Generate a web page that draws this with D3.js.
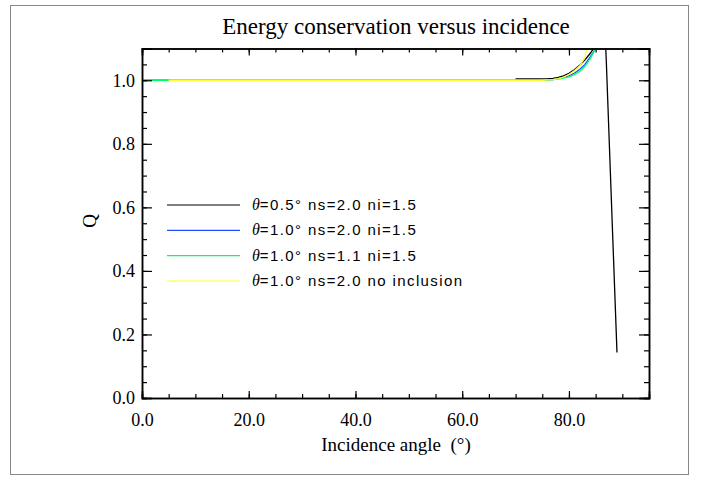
<!DOCTYPE html>
<html>
<head>
  <title>Energy conservation versus incidence</title>
  <script src="https://d3js.org/d3.v7.min.js"></script>
  <style>
    body { margin: 0; background: #fff; }
    svg text { font-family: "Liberation Serif", serif; }
    .curve { fill: none; stroke-width: 1.3px; }
    .tick text { font-family: "Liberation Serif", serif; font-size: 18px; fill: #000; }
    .legend text { font-family: "Liberation Sans", sans-serif; font-size: 15px; letter-spacing: 1.4px; }
    .legend .theta { font-family: "Liberation Serif", serif; font-style: italic; font-size: 16px; letter-spacing: 0; }
  </style>
</head>
<body>
  <svg width="701" height="481"></svg>

  <script>
    // Series: incidence angle (deg) and Q
    const angleBlack = [70, 72, 74, 76, 77, 78, 79, 80, 81, 82, 83, 84, 85, 85.5, 86, 86.5, 87, 89];
    const qBlack = [1.004, 1.004, 1.004, 1.005, 1.006, 1.009, 1.014, 1.022, 1.033, 1.047, 1.064, 1.085, 1.11, 1.14, 1.2, 1.25, 1.06, 0.143];

    const angleBlue = [0, 5, 10, 20, 30, 40, 50, 60, 70, 75, 76, 77, 78, 79, 80, 81, 82, 83, 84, 85, 85.3];
    const qBlue = [1.0, 1.0, 1.0, 1.0, 1.0, 1.0, 1.0, 1.0, 1.0, 1.0, 1.001, 1.002, 1.005, 1.009, 1.014, 1.022, 1.034, 1.05, 1.074, 1.1, 1.11];

    const angleGreen = [0, 5, 10, 20, 30, 40, 50, 60, 70, 75, 76, 77, 78, 79, 80, 81, 82, 83, 84, 85, 85.3];
    const qGreen = [1.0, 1.0, 1.0, 1.0, 1.0, 1.0, 1.0, 1.0, 1.0, 1.0, 1.001, 1.002, 1.004, 1.007, 1.011, 1.018, 1.028, 1.044, 1.068, 1.1, 1.11];

    const angleYellow = [5, 10, 20, 30, 40, 50, 60, 70, 75, 76, 77, 78, 79, 80, 81, 82, 83, 83.4];
    const qYellow = [1.0, 1.0, 1.0, 1.0, 1.0, 1.0, 1.0, 1.0, 1.0, 1.001, 1.002, 1.005, 1.01, 1.018, 1.03, 1.045, 1.072, 1.11];

    const legendLabels = [
      ["0.5", "2.0", "ni=1.5"],
      ["1.0", "2.0", "ni=1.5"],
      ["1.0", "1.1", "ni=1.5"],
      ["1.0", "2.0", "no inclusion"]
    ];
    const colors = ["#000000", "#1f4dff", "#00ff66", "#ffff33"];

    const xTicks = [0, 20, 40, 60, 80];
    const yTicks = [0, 0.2, 0.4, 0.6, 0.8, 1.0];

    const svg = d3.select("svg");
    const margin = { top: 48.5, right: 52, bottom: 83, left: 142 };
    const W = 701, H = 481;

    // outer frame
    svg.append("rect")
      .attr("x", 10.5).attr("y", 5.5)
      .attr("width", 678).attr("height", 469)
      .attr("fill", "none").attr("stroke", "#888").attr("stroke-width", 1);

    const x = d3.scaleLinear().domain([0, 95]).range([margin.left, W - margin.right]);
    const y = d3.scaleLinear().domain([0, 1.1]).range([H - margin.bottom, margin.top]);

    svg.append("defs").append("clipPath").attr("id", "plot")
      .append("rect")
      .attr("x", x(0)).attr("y", y(1.1))
      .attr("width", x(95) - x(0)).attr("height", y(0) - y(1.1));

    const line = d3.line().x(d => x(d[0])).y(d => y(d[1]));
    const series = [
      [angleBlack, qBlack],
      [angleBlue, qBlue],
      [angleGreen, qGreen],
      [angleYellow, qYellow]
    ];
    const curves = svg.append("g").attr("clip-path", "url(#plot)");
    series.forEach((s, i) => {
      curves.append("path")
        .datum(d3.zip(s[0], s[1]))
        .attr("class", "curve")
        .attr("stroke", colors[i])
        .attr("d", line);
    });

    // axes with inward ticks, IDL style
    const xMinor = d3.range(0, 95, 5);
    const yMinor = d3.range(0, 1.1001, 0.05);

    function axisGroup(axis, tx, ty) {
      const g = svg.append("g").attr("transform", `translate(${tx},${ty})`).call(axis);
      g.attr("font-family", null).attr("font-size", null);
      g.select(".domain").attr("stroke-width", 1.5);
      g.selectAll(".tick line").attr("stroke-width", 1.2);
      return g;
    }

    // minor ticks
    axisGroup(d3.axisBottom(x).tickValues(xMinor).tickSize(-4).tickFormat(""), 0, y(0));
    axisGroup(d3.axisTop(x).tickValues(xMinor).tickSize(-4).tickFormat(""), 0, y(1.1));
    axisGroup(d3.axisLeft(y).tickValues(yMinor).tickSize(-5).tickFormat(""), x(0), 0);
    axisGroup(d3.axisRight(y).tickValues(yMinor).tickSize(-5).tickFormat(""), x(95), 0);

    // major ticks
    axisGroup(d3.axisBottom(x).tickValues(xTicks).tickSize(-7).tickPadding(15)
      .tickFormat(d3.format(".1f")), 0, y(0));
    axisGroup(d3.axisTop(x).tickValues(xTicks).tickSize(-7).tickFormat(""), 0, y(1.1));
    axisGroup(d3.axisLeft(y).tickValues(yTicks).tickSize(-10).tickPadding(7)
      .tickFormat(d3.format(".1f")), x(0), 0);
    axisGroup(d3.axisRight(y).tickValues(yTicks).tickSize(-10).tickFormat(""), x(95), 0);

    // title and axis labels
    svg.append("text")
      .attr("x", 396).attr("y", 34)
      .attr("text-anchor", "middle").style("font-size", "23px")
      .text("Energy conservation versus incidence");
    svg.append("text")
      .attr("x", 396).attr("y", 451)
      .attr("text-anchor", "middle").style("font-size", "19px")
      .style("white-space", "pre")
      .text("Incidence angle  (°)");
    svg.append("text")
      .attr("transform", "translate(96,221) rotate(-90)")
      .attr("text-anchor", "middle").style("font-size", "19px")
      .text("Q");

    // legend
    const legend = svg.append("g").attr("class", "legend");
    const rowY = d3.scalePoint().domain(d3.range(4)).range([205, 281]);
    legendLabels.forEach((lab, i) => {
      const ly = rowY(i);
      legend.append("line")
        .attr("x1", 167).attr("x2", 240)
        .attr("y1", ly).attr("y2", ly)
        .attr("stroke", colors[i]).attr("stroke-width", 1.2);
      const t = legend.append("text").attr("x", 252).attr("y", ly + 5);
      t.append("tspan").attr("class", "theta").text("θ");
      t.append("tspan").text("=" + lab[0] + "° ns=" + lab[1] + " " + lab[2]);
    });
  </script>
</body>
</html>
